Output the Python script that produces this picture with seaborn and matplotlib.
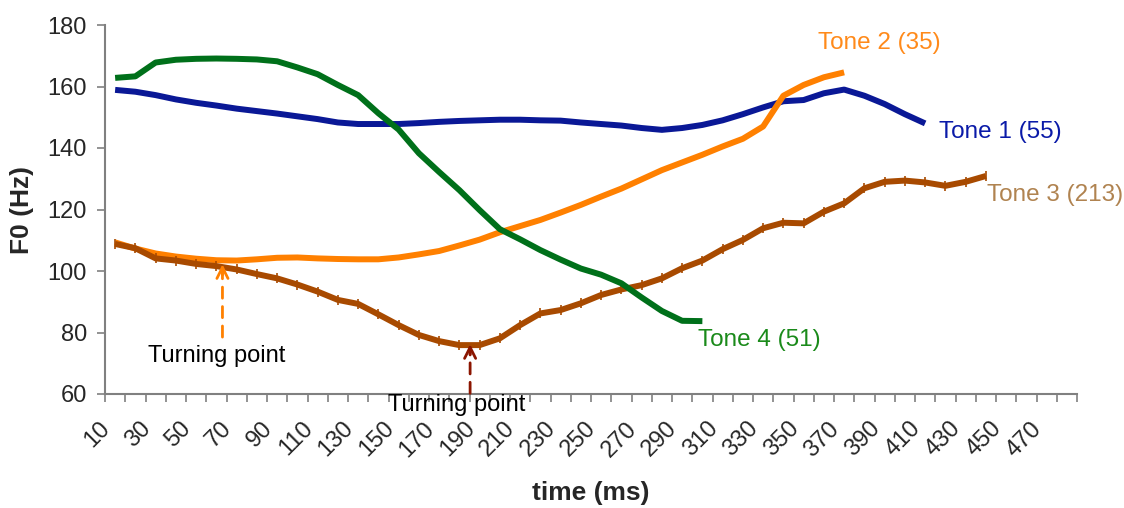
import numpy as np
import pandas as pd
import matplotlib
matplotlib.use("Agg")
import matplotlib.pyplot as plt
import matplotlib.transforms as mtransforms
import seaborn as sns

# F0 contours (Hz), sampled every 10 ms starting at 10 ms
tone1 = [158.9, 158.3, 157.2, 155.8, 154.7, 153.8, 152.8, 152.0, 151.2, 150.3,
         149.4, 148.3, 147.8, 147.8, 147.8, 148.1, 148.5, 148.8, 149.0, 149.2,
         149.2, 149.0, 148.9, 148.3, 147.8, 147.3, 146.5, 145.9, 146.5, 147.5,
         149.0, 151.0, 153.2, 155.2, 155.6, 157.8, 159.0, 157.0, 154.3, 151.0,
         148.0]
tone2 = [109.3, 107.3, 105.7, 104.7, 104.0, 103.5, 103.4, 103.8, 104.3, 104.4,
         104.1, 103.9, 103.8, 103.8, 104.4, 105.4, 106.5, 108.3, 110.2, 112.6,
         114.6, 116.6, 119.0, 121.5, 124.2, 126.8, 129.8, 132.8, 135.3, 137.8,
         140.5, 143.0, 147.0, 157.0, 160.5, 163.0, 164.6]
tone3 = [108.8, 107.4, 104.1, 103.4, 102.3, 101.6, 100.5, 99.0, 97.6, 95.6,
         93.3, 90.6, 89.3, 85.9, 82.4, 79.2, 77.2, 75.9, 75.9, 78.1,
         82.4, 86.2, 87.3, 89.5, 92.2, 94.0, 95.4, 97.6, 100.9, 103.4,
         107.1, 110.1, 113.9, 115.7, 115.5, 119.3, 122.0, 126.9, 129.0, 129.4,
         128.8, 127.7, 129.0, 130.9]
tone4 = [162.8, 163.3, 167.8, 168.7, 169.0, 169.1, 169.0, 168.8, 168.2, 166.2,
         164.0, 160.5, 157.2, 151.3, 146.0, 138.3, 132.2, 126.3, 119.8, 113.6,
         110.3, 106.8, 103.7, 100.8, 98.8, 96.0, 91.4, 87.0, 83.8, 83.7]

series_names = ["Tone 1", "Tone 2", "Tone 3", "Tone 4"]
series_values = [tone1, tone2, tone3, tone4]
label_texts = ["Tone 1 (55)", "Tone 2 (35)", "Tone 3 (213)", "Tone 4 (51)"]
tick_labels = [str(v) for v in range(10, 480, 20)]

line_colors = {"Tone 1": "#0a1896", "Tone 2": "#ff8000",
               "Tone 3": "#a84a00", "Tone 4": "#00701a"}
text_colors = {"Tone 1": "#0a1aa8", "Tone 2": "#ff8a1a",
               "Tone 3": "#b08350", "Tone 4": "#1a8a1a"}

frames = []
for name, vals in zip(series_names, series_values):
    t = 10 * (np.arange(len(vals)) + 1)
    frames.append(pd.DataFrame({"time": t, "f0": vals, "tone": name}))
df = pd.concat(frames, ignore_index=True)

sns.set_theme(style="white")
plt.rcParams["font.family"] = ["Liberation Sans", "DejaVu Sans"]

fig = plt.figure(figsize=(11.24, 5.08), dpi=100)
ax = fig.add_axes([105 / 1124, 1 - 394 / 508, 972 / 1124, 369 / 508])

# layering: blue, orange, brown, green on top
for name in ["Tone 1", "Tone 2", "Tone 3", "Tone 4"]:
    sub = df[df["tone"] == name]
    kw = {}
    if name == "Tone 3":
        kw = dict(marker="|", markersize=6.5, markeredgewidth=1.2,
                  markeredgecolor=line_colors[name])
    sns.lineplot(data=sub, x="time", y="f0", ax=ax, color=line_colors[name],
                 linewidth=4.3, solid_capstyle="butt", legend=False, **kw)

ax.set_xlim(5, 485)
ax.set_ylim(60, 180)
ax.set_yticks(np.arange(60, 181, 20))
ax.tick_params(axis="y", labelsize=17, length=6, width=1.2,
               color="#808080", direction="out", left=True, pad=7)

# category boundaries carry the tick marks, labels sit at every other centre
ax.set_xticks(np.arange(10, 480, 20))
ax.set_xticklabels(tick_labels, rotation=45, ha="right",
                   rotation_mode="anchor", fontsize=17)
ax.set_xticks(np.arange(5, 486, 10), minor=True)
ax.tick_params(axis="x", which="major", length=0, pad=17)
ax.tick_params(axis="x", which="minor", length=6, width=1.2,
               color="#808080", direction="out", bottom=True)
shift = mtransforms.ScaledTranslation(-16 / 100, 0, fig.dpi_scale_trans)
for lbl in ax.get_xticklabels():
    lbl.set_transform(lbl.get_transform() + shift)

for side in ["top", "right"]:
    ax.spines[side].set_visible(False)
for side in ["left", "bottom"]:
    ax.spines[side].set_color("#808080")
    ax.spines[side].set_linewidth(1.5)

ax.set_xlabel("time (ms)", fontsize=19, fontweight="bold")
ax.xaxis.set_label_coords(0.5, -0.237)
ax.set_ylabel("F0 (Hz)", fontsize=19, fontweight="bold", labelpad=10)

# tone labels
label_pos = {"Tone 1": (417, 145.2), "Tone 2": (357, 174.1),
             "Tone 3": (440.5, 124.7), "Tone 4": (298, 77.6)}
for name, txt in zip(series_names, label_texts):
    x, y = label_pos[name]
    ax.text(x, y, txt, color=text_colors[name], fontsize=17.5,
            ha="left", va="center", clip_on=False)


def turning_arrow(x, y_tip, y_tail, color):
    # dashed shaft with a solid open head
    ax.annotate("", xy=(x, y_tip - 2.5), xytext=(x, y_tail),
                arrowprops=dict(arrowstyle="-", color=color, lw=2,
                                linestyle=(0, (4, 3)), shrinkA=0, shrinkB=0),
                annotation_clip=False)
    ax.annotate("", xy=(x, y_tip), xytext=(x, y_tip - 3.5),
                arrowprops=dict(arrowstyle="->", color=color, lw=2,
                                mutation_scale=20, shrinkA=0, shrinkB=0),
                annotation_clip=False)


turning_arrow(63, 102.2, 78.5, "#ff8000")
ax.text(60, 72.4, "Turning point", fontsize=17, ha="center", va="center",
        color="black")
turning_arrow(185.3, 76.2, 60.2, "#8b1500")
ax.text(178.7, 56.4, "Turning point", fontsize=17, ha="center",
        va="center", color="black", clip_on=False)

fig.savefig("out.png", dpi=100)
